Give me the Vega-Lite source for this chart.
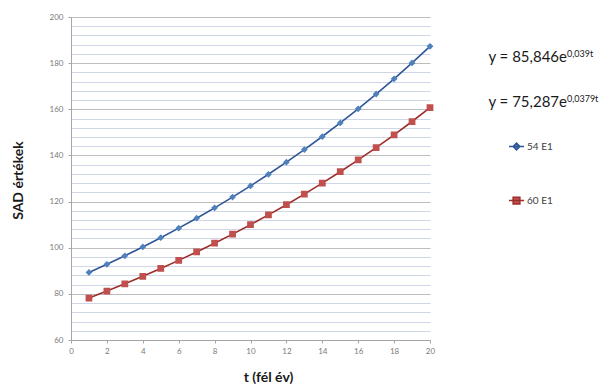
{
  "$schema": "https://vega.github.io/schema/vega-lite/v6.json",
  "width": 359,
  "height": 323,
  "autosize": {"type": "none"},
  "padding": {"left": 71, "top": 17, "right": 170, "bottom": 48},
  "background": "white",
  "config": {"view": {"stroke": null}, "font": "Lato"},
  "datasets": {
    "series": [
      {"t": 1, "v": 89.26, "s": "54 E1"}, {"t": 2, "v": 92.81, "s": "54 E1"}, {"t": 3, "v": 96.50, "s": "54 E1"},
      {"t": 4, "v": 100.34, "s": "54 E1"}, {"t": 5, "v": 104.33, "s": "54 E1"}, {"t": 6, "v": 108.48, "s": "54 E1"},
      {"t": 7, "v": 112.79, "s": "54 E1"}, {"t": 8, "v": 117.28, "s": "54 E1"}, {"t": 9, "v": 121.94, "s": "54 E1"},
      {"t": 10, "v": 126.79, "s": "54 E1"}, {"t": 11, "v": 131.84, "s": "54 E1"}, {"t": 12, "v": 137.08, "s": "54 E1"},
      {"t": 13, "v": 142.53, "s": "54 E1"}, {"t": 14, "v": 148.20, "s": "54 E1"}, {"t": 15, "v": 154.09, "s": "54 E1"},
      {"t": 16, "v": 160.22, "s": "54 E1"}, {"t": 17, "v": 166.59, "s": "54 E1"}, {"t": 18, "v": 173.22, "s": "54 E1"},
      {"t": 19, "v": 180.11, "s": "54 E1"}, {"t": 20, "v": 187.27, "s": "54 E1"},
      {"t": 1, "v": 78.20, "s": "60 E1"}, {"t": 2, "v": 81.22, "s": "60 E1"}, {"t": 3, "v": 84.35, "s": "60 E1"},
      {"t": 4, "v": 87.61, "s": "60 E1"}, {"t": 5, "v": 91.00, "s": "60 E1"}, {"t": 6, "v": 94.51, "s": "60 E1"},
      {"t": 7, "v": 98.16, "s": "60 E1"}, {"t": 8, "v": 101.95, "s": "60 E1"}, {"t": 9, "v": 105.89, "s": "60 E1"},
      {"t": 10, "v": 109.98, "s": "60 E1"}, {"t": 11, "v": 114.23, "s": "60 E1"}, {"t": 12, "v": 118.64, "s": "60 E1"},
      {"t": 13, "v": 123.23, "s": "60 E1"}, {"t": 14, "v": 127.99, "s": "60 E1"}, {"t": 15, "v": 132.93, "s": "60 E1"},
      {"t": 16, "v": 138.07, "s": "60 E1"}, {"t": 17, "v": 143.40, "s": "60 E1"}, {"t": 18, "v": 148.94, "s": "60 E1"},
      {"t": 19, "v": 154.70, "s": "60 E1"}, {"t": 20, "v": 160.67, "s": "60 E1"}
    ]
  },
  "layer": [
    {
      "data": {"name": "series"},
      "mark": {"type": "line", "strokeWidth": 1.6},
      "encoding": {
        "x": {
          "field": "t", "type": "quantitative",
          "scale": {"domain": [0, 20], "nice": false, "zero": false},
          "axis": {
            "values": [0, 2, 4, 6, 8, 10, 12, 14, 16, 18, 20],
            "tickCount": 100,
            "format": "d",
            "grid": false,
            "labelOverlap": false,
            "labelFlush": false,
            "title": "t (fél év)",
            "titleFontSize": 14, "titleFontWeight": "bold", "titleColor": "#1a1a1a",
            "titleX": 197, "titleY": 37, "titleBaseline": "middle", "titleAlign": "center",
            "labelFontSize": 8, "labelColor": "#7a7a7a", "labelPadding": 4,
            "tickSize": 3, "tickColor": "#a6a6a6", "domainColor": "#a6a6a6"
          }
        },
        "y": {
          "field": "v", "type": "quantitative",
          "scale": {"domain": [60, 200], "nice": false, "zero": false},
          "axis": {
            "values": [60, 64, 68, 72, 76, 80, 84, 88, 92, 96, 100, 104, 108, 112, 116, 120, 124, 128, 132, 136, 140, 144, 148, 152, 156, 160, 164, 168, 172, 176, 180, 184, 188, 192, 196, 200],
            "tickCount": 100,
            "format": "d",
            "labelExpr": "datum.value % 20 === 0 ? datum.label : ''",
            "labelOverlap": false,
            "labelFlush": false,
            "grid": true,
            "gridColor": {"condition": {"test": "datum.value % 20 === 0", "value": "#bdbdbd"}, "value": "#cfd6e6"},
            "gridWidth": 1,
            "tickColor": {"condition": {"test": "datum.value % 20 === 0", "value": "#a6a6a6"}, "value": "transparent"},
            "tickSize": 3,
            "domainColor": "#a6a6a6",
            "labelFontSize": 8, "labelColor": "#7a7a7a", "labelPadding": 5,
            "title": "SAD értékek",
            "titleFontSize": 14, "titleFontWeight": "bold", "titleColor": "#1a1a1a",
            "titleX": -53, "titleY": 163, "titleAngle": -90, "titleBaseline": "middle", "titleAlign": "center"
          }
        },
        "stroke": {
          "field": "s", "type": "nominal",
          "scale": {"domain": ["54 E1", "60 E1"], "range": ["#2F5597", "#9B2D2A"]}
        }
      }
    },
    {
      "data": {"name": "series"},
      "mark": {"type": "point", "filled": true, "size": 225, "strokeWidth": 0, "opacity": 1},
      "encoding": {
        "x": {"field": "t", "type": "quantitative"},
        "y": {"field": "v", "type": "quantitative"},
        "color": {
          "field": "s", "type": "nominal",
          "scale": {"domain": ["54 E1", "60 E1"], "range": ["#4F81BD", "#C0504D"]},
          "legend": {
            "orient": "none", "legendX": 437, "legendY": 121, "title": null,
            "padding": 0, "symbolSize": 225, "rowPadding": 39,
            "labelFontSize": 10, "labelColor": "#404040", "labelOffset": 2,
            "symbolStrokeWidth": 1.5, "symbolOpacity": 1,
            "encode": {
              "symbols": {
                "update": {
                  "stroke": {"signal": "datum.value === '54 E1' ? '#2F5597' : '#9B2D2A'"},
                  "strokeWidth": {"value": 1.5},
                  "opacity": {"value": 1}
                }
              }
            }
          }
        },
        "shape": {
          "field": "s", "type": "nominal",
          "scale": {"domain": ["54 E1", "60 E1"], "range": ["M-1,0H1M0,-0.45L0.45,0L0,0.45L-0.45,0Z", "M-1,0H1M-0.45,-0.45H0.45V0.45H-0.45Z"]}
        }
      }
    },
    {
      "data": {"values": [{}]},
      "mark": {"type": "text", "align": "right", "baseline": "alphabetic", "fontSize": 15, "color": "#1a1a1a"},
      "encoding": {"x": {"datum": 27.63}, "y": {"datum": 180.65}, "text": {"value": "y = 85,846e"}}
    },
    {
      "data": {"values": [{}]},
      "mark": {"type": "text", "align": "left", "baseline": "alphabetic", "fontSize": 9, "color": "#1a1a1a"},
      "encoding": {"x": {"datum": 27.63}, "y": {"datum": 182.83}, "text": {"value": "0,039t"}}
    },
    {
      "data": {"values": [{}]},
      "mark": {"type": "text", "align": "right", "baseline": "alphabetic", "fontSize": 15, "color": "#1a1a1a"},
      "encoding": {"x": {"datum": 27.63}, "y": {"datum": 161.09}, "text": {"value": "y = 75,287e"}}
    },
    {
      "data": {"values": [{}]},
      "mark": {"type": "text", "align": "left", "baseline": "alphabetic", "fontSize": 9, "color": "#1a1a1a"},
      "encoding": {"x": {"datum": 27.63}, "y": {"datum": 163.26}, "text": {"value": "0,0379t"}}
    }
  ]
}
